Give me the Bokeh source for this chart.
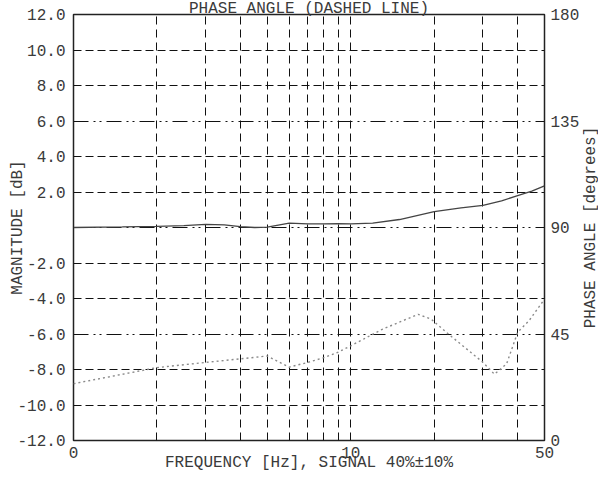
import math
from bokeh.plotting import figure
from bokeh.layouts import row
from bokeh.models import Range1d, LinearAxis, FixedTicker, Grid, Title, PrintfTickFormatter
from bokeh.core.properties import value
from bokeh.embed import file_html
from bokeh.resources import INLINE

# ---- data ----
freq_mag = [1, 1.5, 2, 2.5, 3, 3.5, 4, 4.5, 5, 6, 7, 8, 9, 10, 12, 15, 20, 25, 30, 35, 40, 45, 50]
mag_db = [0.0, 0.03, 0.06, 0.1, 0.18, 0.15, 0.05, 0.0, 0.02, 0.25, 0.2, 0.2, 0.22, 0.2, 0.25,
          0.45, 0.9, 1.1, 1.25, 1.5, 1.8, 2.05, 2.35]

freq_phase = [1, 2, 3, 4, 5, 6, 7, 8, 9, 10, 13, 17.5, 19.5, 22.5, 30, 33, 36.5, 40, 44, 50]
phase_deg = [24, 30.8, 33, 34.5, 35.7, 31, 33, 35, 37.3, 40, 47, 53.3, 51.3, 45, 33, 28, 32.4,
             45.7, 50.7, 59.7]

x_ticks = [1, 10, 50]
x_tick_labels = {1: "0", 10: "10", 50: "50"}
x_grid_lines = [2, 3, 4, 5, 6, 7, 8, 9, 10, 20, 30, 40]
y_ticks = [-12, -10, -8, -6, -4, -2, 0, 2, 4, 6, 8, 10, 12]
y_dashed_grid = [-10, -8, -4, -2, 2, 4, 8, 10]
y_dashdot_grid = [-6, 0, 6]
phase_ticks = [0, 45, 90, 135, 180]

title_text = "PHASE ANGLE (DASHED LINE)"
x_label = "FREQUENCY [Hz], SIGNAL 40%±10%"
y_label = "MAGNITUDE [dB]"
y2_label = "PHASE ANGLE [degrees]"

FONT = "Liberation Mono"
FS = "16px"
TXT = "#3a3a3a"

B_TOP, B_BOTTOM = 14, 36
FRAME_H = 426

p = figure(frame_width=471, frame_height=FRAME_H, x_axis_type="log",
           x_range=Range1d(1, 50), y_range=Range1d(-12, 12),
           output_backend="svg", toolbar_location=None,
           min_border_left=73, min_border_right=35, min_border_top=B_TOP,
           min_border_bottom=B_BOTTOM)
p.extra_y_ranges = {"phase": Range1d(0, 180)}
p.background_fill_color = "white"
p.border_fill_color = "white"
p.outline_line_color = "#222222"
p.outline_line_width = 1.5
p.outline_line_alpha = 1.0

def style_axis(ax):
    ax.axis_line_color = None
    ax.major_tick_line_color = None
    ax.minor_tick_line_color = None
    ax.major_tick_out = 0
    ax.major_tick_in = 0
    ax.minor_tick_out = 0
    ax.minor_tick_in = 0
    ax.major_label_text_font = FONT
    ax.major_label_text_font_size = FS
    ax.major_label_text_color = TXT
    ax.major_label_standoff = 8
    ax.axis_label_text_font = FONT
    ax.axis_label_text_font_size = FS
    ax.axis_label_text_color = TXT
    ax.axis_label_text_font_style = "normal"

xa = p.xaxis[0]
xa.ticker = FixedTicker(ticks=x_ticks)
xa.major_label_overrides = x_tick_labels
xa.axis_label = x_label
style_axis(xa)
xa.major_label_standoff = 6
xa.axis_label_standoff = -7

ya = p.yaxis[0]
ya.ticker = FixedTicker(ticks=y_ticks)
ya.formatter = PrintfTickFormatter(format="%.1f")
ya.major_label_overrides = {0: ""}
ya.axis_label = y_label
style_axis(ya)
ya.axis_label_standoff = -13

ra = LinearAxis(y_range_name="phase", ticker=FixedTicker(ticks=phase_ticks))
style_axis(ra)
ra.major_label_standoff = 6
p.add_layout(ra, "right")

GRID_COLOR = "#111111"
p.xgrid.ticker = FixedTicker(ticks=x_grid_lines)
p.xgrid.grid_line_color = GRID_COLOR
p.xgrid.grid_line_dash = "8 5"
p.xgrid.grid_line_width = 1
p.ygrid.ticker = FixedTicker(ticks=y_dashed_grid)
p.ygrid.grid_line_color = GRID_COLOR
p.ygrid.grid_line_dash = "8 4"
p.ygrid.grid_line_width = 1
g2 = Grid(dimension=1, ticker=FixedTicker(ticks=y_dashdot_grid),
          grid_line_color=GRID_COLOR, grid_line_dash="15 5 2 4 2 5", grid_line_width=1)
p.add_layout(g2)

p.line(freq_mag, mag_db, line_color="#444444", line_width=1.3)
p.line(freq_phase, phase_deg, y_range_name="phase", line_color="#8a8a8a", line_width=1.4,
       line_dash="2 3")

p.add_layout(Title(text=title_text, align="center", text_font=FONT, text_font_size=FS,
                   text_color=TXT, text_font_style="normal", standoff=-10,
                   vertical_align="top"), "above")

# narrow strip holding the right-hand axis title (reads bottom to top)
side = figure(width=16, frame_height=FRAME_H, x_range=Range1d(0, 1), y_range=Range1d(-12, 12),
              output_backend="svg", toolbar_location=None,
              x_axis_location=None, y_axis_location=None,
              min_border_left=0, min_border_right=0, min_border_top=B_TOP,
              min_border_bottom=B_BOTTOM)
side.outline_line_color = None
side.grid.visible = False
side.background_fill_color = "white"
side.border_fill_color = "white"
side.text(x=[0.5], y=[0], text=[y2_label], angle=math.pi / 2,
          text_align="center", text_baseline="middle",
          text_font=value(FONT), text_font_size=FS, text_color=TXT)

layout = row(p, side, spacing=0)
open("out.html", "w").write(file_html(layout, INLINE))
